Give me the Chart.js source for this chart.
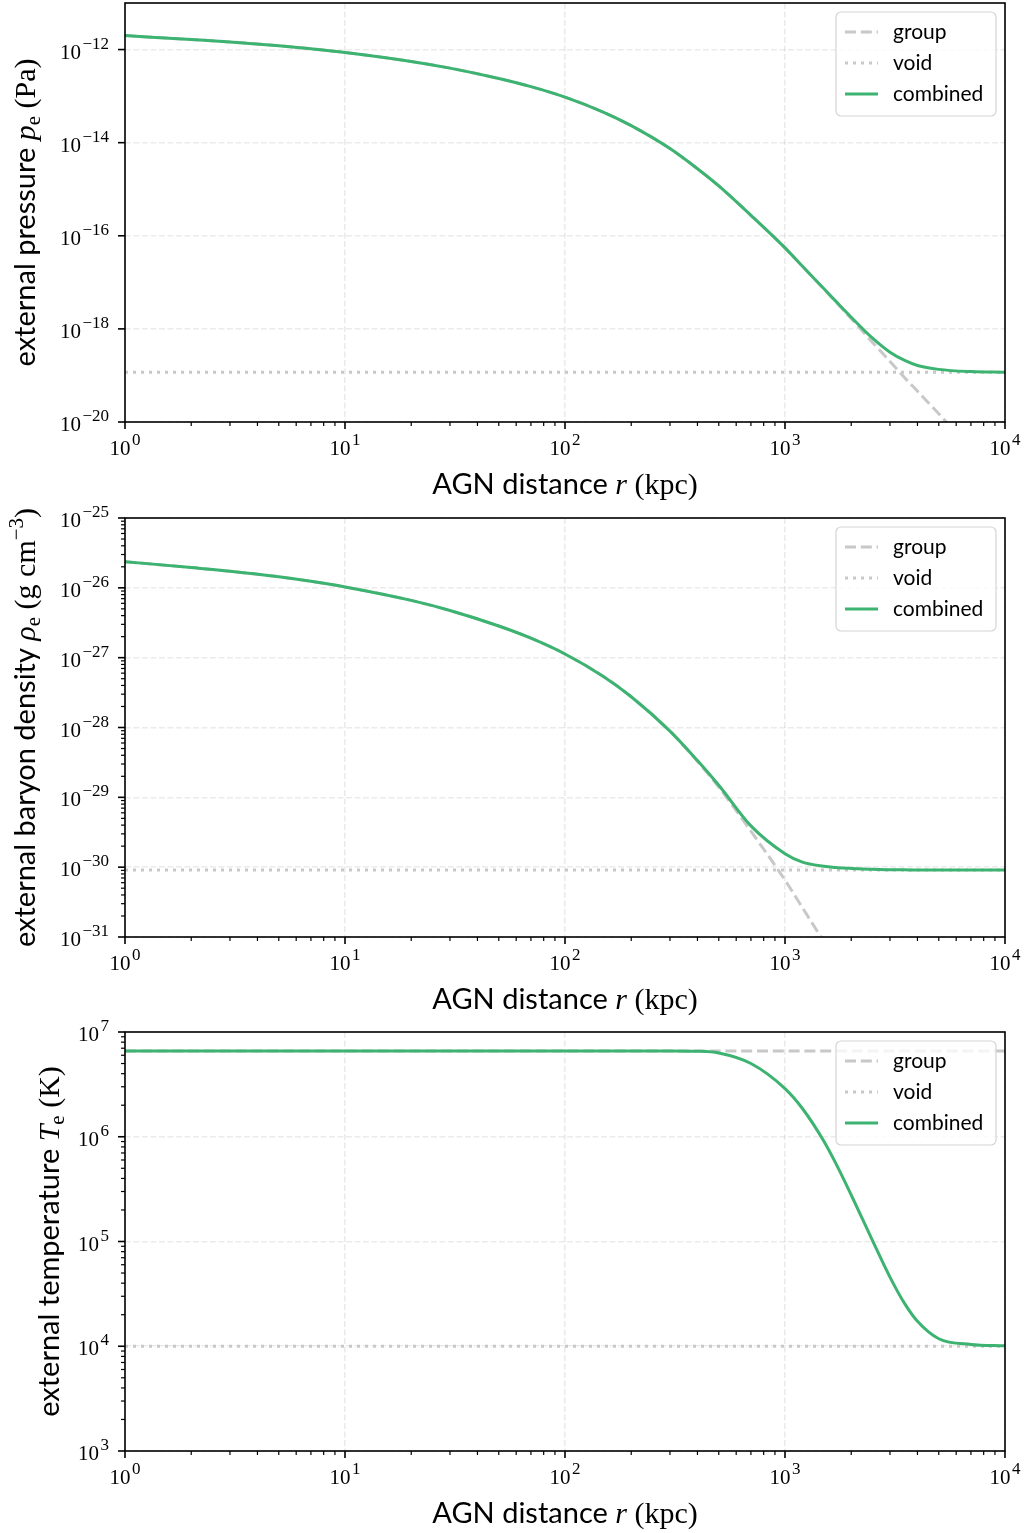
<!DOCTYPE html>
<html>
<head>
<meta charset="utf-8">
<script src="https://cdn.jsdelivr.net/npm/chart.js@4.4.0/dist/chart.umd.min.js"></script>
<style>
  html, body { margin: 0; padding: 0; background: #fff; }
  body { width: 1027px; height: 1533px; position: relative; overflow: hidden; }
  canvas { position: absolute; left: 0; }
</style>
</head>
<body>
<canvas id="pressure" width="1027" height="514" style="top:0"></canvas>
<canvas id="density" width="1027" height="534" style="top:494px"></canvas>
<canvas id="temperature" width="1027" height="525" style="top:1008px"></canvas>
<script>
// AGN distance r (kpc), sampled along the curves
const radius = [1, 2, 3, 5, 7, 10, 20, 30, 50, 70, 100, 150, 200, 300, 400, 500, 700, 1000, 1200, 1500, 1700, 2000, 2500, 3000, 3500, 4000, 5000, 7000, 10000];
const flatRadius = [1, 10000];

// external pressure (Pa)
const pressureGroup = [2.0e-12, 1.64e-12, 1.46e-12, 1.21e-12, 1.04e-12, 8.67e-13, 5.56e-13, 3.99e-13, 2.39e-13, 1.6e-13, 9.53e-14, 4.5e-14, 2.32e-14, 7.46e-15, 2.75e-15, 1.175e-15, 2.75e-16, 5.5e-17, 2.21e-17, 7.24e-18, 3.83e-18, 1.66e-18, 5.13e-19, 2.0e-19, 8.9e-20, 4.6e-20, 1.5e-20, 2.6e-21, 4.2e-22];
const pressureVoid = [1.17e-19, 1.17e-19];
const pressureCombined = [2.0e-12, 1.64e-12, 1.46e-12, 1.21e-12, 1.04e-12, 8.67e-13, 5.56e-13, 3.99e-13, 2.39e-13, 1.6e-13, 9.53e-14, 4.5e-14, 2.32e-14, 7.46e-15, 2.75e-15, 1.175e-15, 2.75e-16, 5.5e-17, 2.22e-17, 7.35e-18, 3.95e-18, 1.78e-18, 6.3e-19, 3.15e-19, 2.1e-19, 1.64e-19, 1.35e-19, 1.21e-19, 1.17e-19];

// external baryon density (g cm^-3)
const densityGroup = [2.37e-26, 1.95e-26, 1.73e-26, 1.44e-26, 1.24e-26, 1.03e-26, 6.61e-27, 4.74e-27, 2.84e-27, 1.9e-27, 1.13e-27, 5.35e-28, 2.76e-28, 8.87e-29, 3.27e-29, 1.4e-29, 3.27e-30, 6.53e-31, 2.63e-31, 8.61e-32, 4.55e-32, 1.97e-32, 6.1e-33, 2.37e-33, 1.06e-33, 5.19e-34, 1.6e-34, 2.72e-35, 4.2e-36];
const densityVoid = [9.1e-31, 9.1e-31];
const densityCombined = [2.37e-26, 1.95e-26, 1.73e-26, 1.44e-26, 1.24e-26, 1.03e-26, 6.61e-27, 4.74e-27, 2.84e-27, 1.9e-27, 1.13e-27, 5.35e-28, 2.76e-28, 8.87e-29, 3.36e-29, 1.49e-29, 3.9e-30, 1.56e-30, 1.18e-30, 1.03e-30, 9.9e-31, 9.6e-31, 9.3e-31, 9.2e-31, 9.15e-31, 9.1e-31, 9.1e-31, 9.1e-31, 9.1e-31];

// external temperature (K)
const temperatureGroup = [6.6e6, 6.6e6];
const temperatureVoid = [1.0e4, 1.0e4];
const temperatureCombined = [6.6e6, 6.6e6, 6.6e6, 6.6e6, 6.6e6, 6.6e6, 6.6e6, 6.6e6, 6.6e6, 6.6e6, 6.6e6, 6.6e6, 6.6e6, 6.6e6, 6.55e6, 6.3e6, 5.0e6, 2.88e6, 1.86e6, 9.12e5, 5.6e5, 2.78e5, 1.02e5, 4.57e4, 2.55e4, 1.73e4, 1.18e4, 1.04e4, 1.01e4];

const xTickExponents = [0, 1, 2, 3, 4];
const legendLabels = ["group", "void", "combined"];

const SERIF = '"Liberation Serif", "DejaVu Serif", serif';
const SANS = 'Lato, "Open Sans", sans-serif';
const GREEN = "#3cb371";
const GRAY = "#c8c8c8";
const GRID = "rgba(0,0,0,0.08)";

const TICK = "21px " + SERIF;
const TICK_SUP = "17px " + SERIF;
const T_SANS = "29px " + SANS;
const T_SERIF = "30px " + SERIF;
const T_IT = "italic 30px " + SERIF;
const T_SMALL = "21px " + SERIF;

function points(xs, ys) {
  return xs.map((x, i) => ({ x: x, y: ys[i] }));
}

function sup(n) {
  return String(n).replace("-", "\u2212");
}

function drawRuns(ctx, runs, x, y, align, rotated) {
  ctx.save();
  ctx.translate(x, y);
  if (rotated) ctx.rotate(-Math.PI / 2);
  let total = 0;
  runs.forEach(r => {
    ctx.font = r.font;
    r.w = ctx.measureText(r.text).width + (r.gap || 0);
    total += r.w;
  });
  let cx = align === "right" ? -total : -total / 2;
  ctx.fillStyle = "#000";
  ctx.textAlign = "left";
  ctx.textBaseline = "alphabetic";
  runs.forEach(r => {
    ctx.font = r.font;
    ctx.fillText(r.text, cx + (r.gap || 0), r.dy || 0);
    cx += r.w;
  });
  ctx.restore();
}

function power(e) {
  return [{ text: "10", font: TICK }, { text: sup(e), font: TICK_SUP, dy: -10, gap: 1.5 }];
}

function tickLine(ctx, x1, y1, x2, y2, w) {
  ctx.lineWidth = w;
  ctx.beginPath();
  ctx.moveTo(x1, y1);
  ctx.lineTo(x2, y2);
  ctx.stroke();
}

function decoration(cfg) {
  return {
    id: "deco",
    afterDatasetsDraw(chart) {
      const ctx = chart.ctx;
      const a = chart.chartArea;
      const xs = chart.scales.x;
      const ys = chart.scales.y;
      ctx.save();
      ctx.strokeStyle = "#000";
      ctx.setLineDash([]);

      // x ticks
      xTickExponents.forEach(e => {
        const px = xs.getPixelForValue(Math.pow(10, e));
        tickLine(ctx, px, a.bottom, px, a.bottom + 7, 1.6);
        drawRuns(ctx, power(e), px, a.bottom + 33, "center", false);
        if (e < 4) {
          for (let m = 2; m <= 9; m++) {
            const mx = xs.getPixelForValue(m * Math.pow(10, e));
            tickLine(ctx, mx, a.bottom, mx, a.bottom + 4, 1.2);
          }
        }
      });

      // y ticks
      cfg.yLabels.forEach(e => {
        const py = ys.getPixelForValue(Math.pow(10, e));
        tickLine(ctx, a.left, py, a.left - 7, py, 1.6);
        drawRuns(ctx, power(e), a.left - 16, py + 9, "right", false);
      });
      if (cfg.yMinor) {
        for (let e = cfg.yLabels[cfg.yLabels.length - 1]; e < cfg.yLabels[0]; e++) {
          for (let m = 2; m <= 9; m++) {
            const my = ys.getPixelForValue(m * Math.pow(10, e));
            tickLine(ctx, a.left, my, a.left - 4, my, 1.2);
          }
        }
      }

      // frame
      ctx.lineWidth = 1.6;
      ctx.strokeRect(a.left, a.top, a.right - a.left, a.bottom - a.top);

      // axis titles
      drawRuns(ctx, [
        { text: "AGN distance ", font: T_SANS },
        { text: "r", font: T_IT },
        { text: " (kpc)", font: T_SERIF }
      ], (a.left + a.right) / 2, a.bottom + 72, "center", false);
      drawRuns(ctx, cfg.yTitle, cfg.yTitleX, (a.top + a.bottom) / 2, "center", true);

      // legend
      const bw = 160, bh = 104;
      const bx = a.right - 9 - bw, by = a.top + 9;
      ctx.beginPath();
      ctx.roundRect(bx, by, bw, bh, 5);
      ctx.fillStyle = "rgba(255,255,255,0.8)";
      ctx.fill();
      ctx.strokeStyle = "#d5d5d5";
      ctx.lineWidth = 1.2;
      ctx.stroke();
      chart.data.datasets.forEach((ds, i) => {
        const ry = by + 20 + i * 31;
        ctx.strokeStyle = ds.borderColor;
        ctx.lineCap = "butt";
        ctx.setLineDash(ds.borderDash || []);
        tickLine(ctx, bx + 9, ry, bx + 42, ry, ds.borderWidth);
        ctx.setLineDash([]);
        ctx.fillStyle = "#000";
        ctx.font = "21px " + SANS;
        ctx.textAlign = "left";
        ctx.fillText(legendLabels[i], bx + 57, ry + 7);
      });
      ctx.restore();
    }
  };
}

function makeChart(id, cfg) {
  const canvas = document.getElementById(id);
  const H = canvas.height;
  return new Chart(canvas, {
    type: "line",
    data: {
      datasets: [
        { label: "group", data: points(cfg.groupX, cfg.group), borderColor: GRAY, borderWidth: 3, borderDash: [11, 4.8], order: 2 },
        { label: "void", data: points(flatRadius, cfg.void), borderColor: GRAY, borderWidth: 3, borderDash: [3, 5], order: 1 },
        { label: "combined", data: points(radius, cfg.combined), borderColor: GREEN, borderWidth: 3, order: 0 }
      ]
    },
    options: {
      responsive: false,
      animation: false,
      devicePixelRatio: 1,
      layout: { padding: { top: cfg.top, right: 22, bottom: 0, left: 0 } },
      elements: {
        point: { radius: 0 },
        line: { cubicInterpolationMode: "monotone", borderCapStyle: "butt", fill: false }
      },
      plugins: { legend: { display: false }, tooltip: { enabled: false } },
      scales: {
        x: {
          type: "logarithmic", min: 1, max: 1e4,
          afterFit: s => { s.height = H - cfg.bottom; },
          afterBuildTicks: s => { s.ticks = xTickExponents.map(e => ({ value: Math.pow(10, e) })); },
          ticks: { display: false },
          grid: { color: GRID, lineWidth: 1.6, drawTicks: false },
          border: { display: false, dash: [5.9, 2.6] }
        },
        y: {
          type: "logarithmic", min: cfg.yMin, max: cfg.yMax,
          afterFit: s => { s.width = 125; },
          afterBuildTicks: s => { s.ticks = cfg.yLabels.map(e => ({ value: Math.pow(10, e) })); },
          ticks: { display: false },
          grid: { color: GRID, lineWidth: 1.6, drawTicks: false },
          border: { display: false, dash: [5.9, 2.6] }
        }
      }
    },
    plugins: [decoration(cfg)]
  });
}

makeChart("pressure", {
  groupX: radius, group: pressureGroup, void: pressureVoid, combined: pressureCombined,
  yMin: 1e-20, yMax: 1e-11, yLabels: [-12, -14, -16, -18, -20], yMinor: false,
  top: 3, bottom: 422, yTitleX: 35,
  yTitle: [
    { text: "external pressure ", font: T_SANS },
    { text: "p", font: T_IT },
    { text: "e", font: T_SMALL, dy: 5 },
    { text: " (Pa)", font: T_SERIF }
  ]
});

makeChart("density", {
  groupX: radius, group: densityGroup, void: densityVoid, combined: densityCombined,
  yMin: 1e-31, yMax: 1e-25, yLabels: [-25, -26, -27, -28, -29, -30, -31], yMinor: true,
  top: 24, bottom: 443, yTitleX: 35,
  yTitle: [
    { text: "external baryon density ", font: T_SANS },
    { text: "\u03c1", font: T_IT },
    { text: "e", font: T_SMALL, dy: 5 },
    { text: " (g cm", font: T_SERIF },
    { text: "\u22123", font: T_SMALL, dy: -12 },
    { text: ")", font: T_SERIF }
  ]
});

makeChart("temperature", {
  groupX: flatRadius, group: temperatureGroup, void: temperatureVoid, combined: temperatureCombined,
  yMin: 1e3, yMax: 1e7, yLabels: [7, 6, 5, 4, 3], yMinor: true,
  top: 24, bottom: 443, yTitleX: 59,
  yTitle: [
    { text: "external temperature ", font: T_SANS },
    { text: "T", font: T_IT },
    { text: "e", font: T_SMALL, dy: 5 },
    { text: " (K)", font: T_SERIF }
  ]
});
</script>
</body>
</html>
